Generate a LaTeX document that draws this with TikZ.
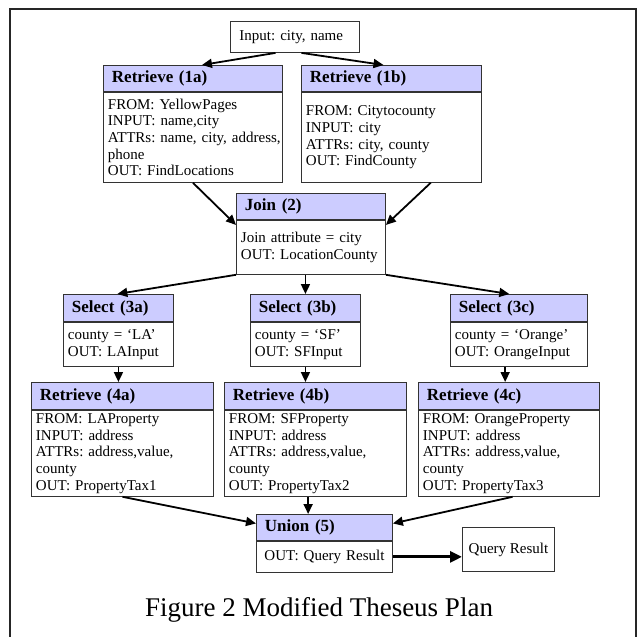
\documentclass[tikz,border=0pt]{standalone}
\usepackage{fontspec}
\setmainfont{Liberation Serif}
\usetikzlibrary{arrows.meta,calc}
\definecolor{hdrc}{HTML}{CCCCFF}
\newcommand\myBody{\fontsize{15pt}{16.7pt}\selectfont\frenchspacing}
\newcommand\myHead{\fontsize{17pt}{20pt}\selectfont\bfseries\frenchspacing}
\newcommand\myCap{\fontsize{27pt}{32pt}\selectfont}
\begin{document}
\begin{tikzpicture}[x=1pt,y=-1pt,
  hdr/.style={draw=black!80, line width=0.9pt, fill=hdrc, anchor=north west, minimum height=26pt, inner xsep=8.5pt, inner ysep=0pt, align=left, font=\myHead},
  bdy/.style={draw=black!80, line width=0.9pt, fill=white, anchor=north west, inner xsep=4.5pt, inner ysep=0pt, align=left, font=\myBody},
  arr/.style={line width=1.8pt, -{Triangle[length=10pt,width=9pt]}},
  frame/.style={line width=2pt, draw=black!85}
]
\useasboundingbox (0,0) rectangle (637,637);
\draw[frame] (10,637) -- (10,9) -- (636,9) -- (636,637);

% input
\node[bdy, inner xsep=9pt, text width=111pt, minimum height=31pt] (inp) at (230,21) {Input: city, name};

% retrieve 1a / 1b
\node[hdr, text width=162pt] (r1ah) at (103,65) {Retrieve (1a)};
\node[bdy, text width=170pt, minimum height=90pt] (r1ab) at (r1ah.south west) {FROM: YellowPages\\INPUT: name,city\\\mbox{ATTRs: name, city, address,}\\phone\\OUT: FindLocations};
\node[hdr, text width=163pt] (r1bh) at (301,65) {Retrieve (1b)};
\node[bdy, text width=171pt, minimum height=90pt] (r1bb) at (r1bh.south west) {FROM: Citytocounty\\INPUT: city\\ATTRs: city, county\\OUT: FindCounty};

% join
\node[hdr, text width=132pt] (jh) at (236,193) {Join (2)};
\node[bdy, text width=140pt, minimum height=54pt] (jb) at (jh.south west) {Join attribute = city\\OUT: LocationCounty};

% selects
\node[hdr, text width=93pt, minimum height=27pt] (sah) at (63,294) {Select (3a)};
\node[bdy, text width=101pt, minimum height=44pt] (sab) at (sah.south west) {county = ‘LA’\\OUT: LAInput};
\node[hdr, text width=93pt, minimum height=27pt] (sbh) at (250,294) {Select (3b)};
\node[bdy, text width=101pt, minimum height=44pt] (sbb) at (sbh.south west) {county = ‘SF’\\OUT: SFInput};
\node[hdr, text width=120pt, minimum height=27pt] (sch) at (450,294) {Select (3c)};
\node[bdy, text width=128pt, minimum height=44pt] (scb) at (sch.south west) {county = ‘Orange’\\OUT: OrangeInput};

% retrieves 4
\node[hdr, text width=165pt, minimum height=27pt] (r4ah) at (31,382) {Retrieve (4a)};
\node[bdy, text width=173pt, minimum height=86pt] (r4ab) at (r4ah.south west) {FROM: LAProperty\\INPUT: address\\ATTRs: address,value,\\county\\OUT: PropertyTax1};
\node[hdr, text width=165pt, minimum height=27pt] (r4bh) at (224,382) {Retrieve (4b)};
\node[bdy, text width=173pt, minimum height=86pt] (r4bb) at (r4bh.south west) {FROM: SFProperty\\INPUT: address\\ATTRs: address,value,\\county\\OUT: PropertyTax2};
\node[hdr, text width=164pt, minimum height=27pt] (r4ch) at (418,382) {Retrieve (4c)};
\node[bdy, text width=172pt, minimum height=86pt] (r4cb) at (r4ch.south west) {FROM: OrangeProperty\\INPUT: address\\ATTRs: address,value,\\county\\OUT: PropertyTax3};

% union
\node[hdr, text width=119pt] (uh) at (256,514) {Union (5)};
\node[bdy, inner xsep=8pt, text width=120pt, minimum height=31pt] (ub) at (uh.south west) {\mbox{OUT: Query Result}};
\node[bdy, align=center, minimum width=92pt, minimum height=44pt] (qr) at (462,527) {Query Result};

% caption
\node[font=\myCap, inner sep=0pt] (cap) at (319,610) {Figure 2 Modified Theseus Plan};

% arrows
\draw[arr] ($(inp.south west)!0.35!(inp.south east)$) -- ($(r1ah.north west)!0.55!(r1ah.north east)$);
\draw[arr] ($(inp.south west)!0.55!(inp.south east)$) -- ($(r1bh.north west)!0.456!(r1bh.north east)$);
\draw[arr] (r1ab.south) -- ($(jh.south west)+(0,5)$);
\draw[arr] ($(r1bb.south west)!0.717!(r1bb.south east)$) -- ($(jh.south east)+(0,5)$);
\draw[arr] (jb.south west) -- ($(sah.north west)!0.49!(sah.north east)$);
\draw[arr] (sbh.north |- jb.south) -- (sbh.north);
\draw[arr] (jb.south east) -- ($(sch.north west)!0.43!(sch.north east)$);
\draw[arr] (sab.south) -- (sab.south |- r4ah.north);
\draw[arr] (sbb.south) -- (sbb.south |- r4bh.north);
\draw[arr] ($(scb.south west)!0.4!(scb.south east)$) coordinate (c1) -- (c1 |- r4ch.north);
\draw[arr] (r4ab.south) -- ($(uh.west)+(0,-4)$);
\draw[arr] ($(r4bb.south west)!0.46!(r4bb.south east)$) coordinate (c2) -- (c2 |- uh.north);
\draw[arr] ($(r4cb.south west)!0.52!(r4cb.south east)$) -- ($(uh.east)+(0,-4)$);
\draw[line width=3pt, -{Triangle[length=12pt,width=11pt]}] (ub.east) -- (ub.east -| qr.west);
\end{tikzpicture}
\end{document}
